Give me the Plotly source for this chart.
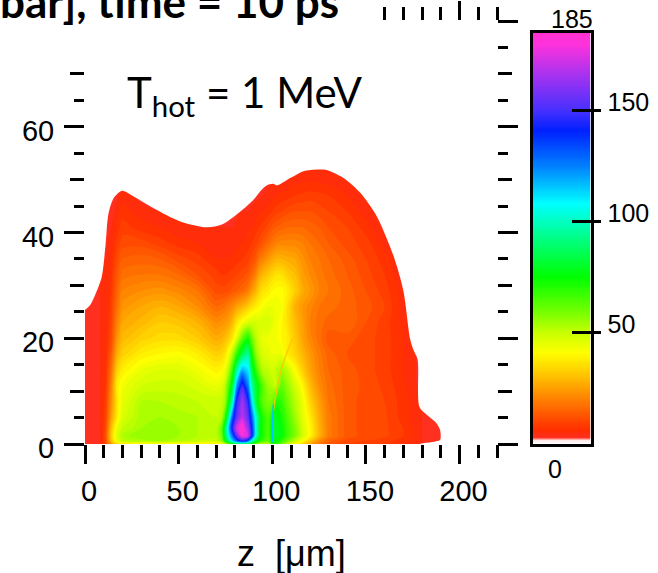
import numpy as np
import plotly.graph_objects as go

W, H = 658, 573
FONT = "Liberation Sans"

z_um = [0,8,11,14,17,20,30,40,50,60,70,73,75,77,79,81,84,87,89,91,93,95,98,100,102,105,108,112,116,120,125,130,140,150,160,170,180,190]
r_um = [0,0.6,1.5,3,5,8,11,14,17,20,23,26,29,32,35,38,41,44,47,50,53]

p00 = [4,4,10,25,35,36,38,38,38,38,38, 42,50,60,70,80,85,80,70,62,55,50,50, 72,70,60,50,42,34,26,18,13,10,9,8,6,4,4]
p01 = [4,4,11,30,44,50,53,54,52,50,49, 55,75,95,115,130,145,130,105,85,72,66,62, 75,75,68,60,50,42,32,22,15,11,10,9,7,4,4]
p02 = [4,4,12,32,46,53,56,56,54,52,51, 58,85,110,130,155,178,172,140,105,80,70,64, 78,80,75,66,58,48,40,28,19,13,11,10.5,8,4,4]
p03 = [4,4,11,30,44,50,54,55,54,52,51, 60,88,118,148,172,183,165,140,108,80,70,64, 80,80,75,66,58,48,40,28,19,13,11,10.5,8,4,4]
p04 = [4,4,10,25,38,47,53,54,53,52,50, 52,70,100,135,155,170,155,130,105,82,70,64, 75,78,72,64,55,46,38,27,19,13,11,10.5,7,4,4]
p05 = [4,4,9,22,36,45,52,52,51,50,50, 50,55,78,102,145,165,145,112,85,70,62,58, 60,72,68,60,52,44,34,25,18,13,11,10,7,4,4]
p06 = [4,4,8,20,38,43,48,49,49,47,44, 46,52,66,84,120,148,125,98,82,72,62,54, 52,50,62,56,48,40,30,22,17,13,11.5,9.5,6.5,3,3]
p07 = [4,4,7,17,33,38,44,46,46,43,39, 40,44,54,70,95,118,110,85,70,58,52,50, 48,50,55,50,41,33,26,20,16,13,11,9,6,3,3]
p08 = [4,4,6,14,27,33,38,40,41,38,33, 34,37,44,54,68,85,95,72,58,50,47,45, 44,44,44,38,34,29,24,19,15,12,11,9,6,3,3]
p09 = [4,4,5.5,11,23,29,33,35,35,32,27, 28,30,33,38,46,62,72,60,52,47,44,43, 42,42,40,38,32,26,21,17,13,13,11,9,6,3,3]
p10 = [4,4,5,10,20,26,29,32,31,28,22, 23,24,26,30,36,42,46,48,48,47,48,48, 45,43,40,36,30,25,20,17,15,16,12,9,5.5,3,3]
p11 = [4,4,4.5,9,17,23,26,28,26,22,16, 17,18,20,22,25,28,32,35,38,40,42,44, 44,44,42,36,28,24,21,18,17,15,13,10,5,3,3]
p12 = [3.5,4,4.5,8,15,20,22,23,21,18,11, 11,11,12,13,14,16,19,24,28,33,36,38, 40,41,41,38,33,27,24,20,18,15,12,9,5,3,3]
p13 = [3,4,4.2,7,13,17,18,18,16,12,9, 8,8,8.5,9,10,11,13,16,20,26,29,32, 34,36,36,33,30,25,22,19,17,14,11,8,4,3,3]
p14 = [3,3.5,4,6,11,14,15,14,11,9,6, 6,6,6,6.5,7,8,9,11,13,18,20,24, 26,28,28,27,26,23,20,18,16,13,10,7,4,3,3]
p15 = [3,3,3.5,5,8.5,11,11,9,7,6,4.5, 4.5,4.5,4.5,5,5.5,6,7,8,9,11,13,16, 18,20,21,21,21,20,18,16,14,11,9,5,3,3,3]
p16 = [3,3,3,4,7,9,7,6,4.5,4,4, 4,4,4,4,4.5,5,5.5,6,7,8,9,11, 13,14,15,16,16,16,15,14,12,10,7,3.5,3,3,3]
p17 = [3,3,3,3,5,7,5,4,4,3.5,3.5, 3.5,3.5,3.5,3.5,3.5,4,4,4.5,5,5.5,6,7, 8,9,10,11,12,12,12,11,10,8,5,3,3,3,3]
p18 = [3,3,3,3,3.5,5,3,3,3,3,3, 3,3,3,3,3,3,3,3,3.5,3.5,4,4.5, 5,6,6.5,7,8,8.5,9,8.5,8,6,4,3,3,3,3]
p19 = [3,3,3,3,3,3,3,3,3,3,3, 3,3,3,3,3,3,3,3,3,3,3,3.5, 4,4,4,4.5,5,5.5,5.5,5.5,5,4,3,3,3,3,3]
p20 = [3,3,3,3,3,3,3,3,3,3,3, 3,3,3,3,3,3,3,3,3,3,3,3, 3,3,3,3,3,3,3.5,3.5,3,3,3,3,3,3,3]
pressure = [p00,p01,p02,p03,p04,p05,p06,p07,p08,p09,p10,p11,p12,p13,p14,p15,p16,p17,p18,p19,p20]

edge_z = [-10,0,2.8,6,9,10.9,12.6,15.3,19.8,24.2,36.7,50.9,65.1,73.1,81,90,93.6,97,100.4,102.5,109.6,116.7,124,129,138,147,155.9,164.8,170,173.7,175.4,177.6,178.6,182.6,187,189.7,189.7,179]
edge_r = [23,25.4,26.3,28.7,31.7,37.4,43.7,46.5,47.9,47.2,44.6,42.1,41,41.5,43.4,46.2,47.8,48.9,49.2,48.9,50.3,51.6,51.9,51.8,50.3,47.5,43,35.5,29,19.7,17.8,16,7,5.5,4.2,2.6,0.8,0]
frame_z = [240,240,-10,-10]
frame_r = [-2,95,95,23]

shear_z = [100.7,103.4,107,111.4]
shear_r = [6.4,12.1,16.5,20.3]
sliver_z = [100,100.1,100.3,100.6]
sliver_r = [0.3,3,5.5,7.5]

cbar_ticks = [50,100,150]
cbar_levels = np.arange(0,185.5,0.5).tolist()

x_major = [0,50,100,150,200]
x_minor = [10,20,30,40,60,70,80,90,110,120,130,140,160,170,180,190,210,220]
top_major = [200]
top_minor = [160,170,180,190,210,220]
left_major = [0,20,40,60]
left_mid = [10,30,50,70]
left_minor = [5,15,25,35,45,55,65]
right_major = [0,20,40,60,80]
right_mid = [10,30,50,70]
right_minor = [5,15,25,35,45,55,65,75]

stops = [(0,"#ffffff"),(1.5,"#ffe8e8"),(3,"#ff3020"),(6,"#ff2c00"),(20,"#ff8000"),(30,"#ffbe00"),(41,"#ffff00"),
         (50,"#c8ff00"),(60,"#70ff00"),(75,"#00ff00"),(92,"#00ff80"),(108,"#00ffff"),(125,"#0080ff"),(141,"#0020ff"),
         (150,"#4630ff"),(165,"#a032f0"),(180,"#ff32dc"),(185,"#ff32d0")]
cscale = [[v/185,c] for v,c in stops]

def px(x): return x/W
def py(y): return 1-y/H

fig = go.Figure()
fig.add_trace(go.Contour(x=z_um,y=r_um,z=pressure,colorscale=cscale,zmin=0,zmax=185,showscale=False,
    autocontour=False,contours=dict(start=0,end=185,size=2,coloring="fill",showlines=False),
    line=dict(width=0,smoothing=1),hoverinfo="skip"))
fig.add_trace(go.Scatter(x=shear_z,y=shear_r,mode="lines",line=dict(color="rgba(255,200,0,0.9)",width=1.5,shape="spline"),hoverinfo="skip",showlegend=False))
fig.add_trace(go.Scatter(x=sliver_z,y=sliver_r,mode="lines",line=dict(color="#00c8ff",width=1.5,shape="spline"),hoverinfo="skip",showlegend=False))
fig.add_trace(go.Scatter(x=edge_z+frame_z,y=edge_r+frame_r,mode="lines",fill="toself",fillcolor="white",line=dict(width=0,color="white",shape="spline",smoothing=0.8),hoverinfo="skip",showlegend=False))
fig.add_trace(go.Heatmap(x=[0],y=cbar_levels,z=[[v] for v in cbar_levels],colorscale=cscale,zmin=0,zmax=185,showscale=False,xaxis="x2",yaxis="y2",hoverinfo="skip"))
for xa,ya in [("x3","y"),("x","y3"),("x","y4"),("x","y5"),("x2","y6")]:
    fig.add_trace(go.Scatter(x=[None],y=[None],xaxis=xa,yaxis=ya,mode="lines",hoverinfo="skip",showlegend=False))

tw = 3
def mnr(vals,l):
    return dict(tickmode="array",tickvals=vals,ticks="outside",ticklen=l,tickwidth=tw,tickcolor="black",showgrid=False)
base = dict(showgrid=False,zeroline=False,showline=False,tickcolor="black",tickwidth=tw,ticks="outside",tickmode="array")
xdom = [px(85),px(497)]
ydom = [py(444),py(21)]

layout = dict(width=W,height=H,margin=dict(l=0,r=0,t=0,b=0,autoexpand=False),paper_bgcolor="white",plot_bgcolor="white",showlegend=False,
    xaxis=dict(base,domain=xdom,range=[0,220],anchor="y",tickvals=x_major,ticklen=19,minor=mnr(x_minor,13),
               tickfont=dict(family=FONT,size=29,color="black"),ticklabelshift=4,ticklabelstandoff=2),
    yaxis=dict(base,domain=ydom,range=[0,80],anchor="x",tickvals=left_major,ticklen=20,minor=mnr(left_mid,14),
               tickfont=dict(family=FONT,size=29,color="black"),ticklabelstandoff=4,ticklabelshift=4),
    xaxis3=dict(base,overlaying="x",side="top",anchor="y",range=[0,220],tickvals=top_major,ticklen=19,minor=mnr(top_minor,13),showticklabels=False),
    yaxis3=dict(base,overlaying="y",side="left",anchor="x",range=[0,80],tickvals=left_minor,ticklen=10,showticklabels=False),
    yaxis4=dict(base,overlaying="y",side="right",anchor="x",range=[0,80],tickvals=right_major,ticklen=20,minor=mnr(right_mid,14),showticklabels=False),
    yaxis5=dict(base,overlaying="y",side="right",anchor="x",range=[0,80],tickvals=right_minor,ticklen=10,showticklabels=False),
    xaxis2=dict(domain=[px(532.5),px(590.5)],range=[-0.5,0.5],anchor="y2",showgrid=False,zeroline=False,ticks="",showticklabels=False,
                showline=True,mirror=True,linecolor="black",linewidth=3),
    yaxis2=dict(base,domain=[py(444),py(33)],range=[0,185],anchor="x2",side="right",tickvals=cbar_ticks,ticklen=7,showline=True,linecolor="black",linewidth=3,mirror=True,
                tickfont=dict(family=FONT,size=25,color="black"),ticklabelshift=-9,ticklabelstandoff=2),
    yaxis6=dict(base,overlaying="y2",anchor="x2",side="right",range=[0,185],tickvals=cbar_ticks,ticks="inside",ticklen=19,showticklabels=False),
)
fig.update_layout(**layout)

def ann(text,x,y,size,family=FONT,xanchor="center",yanchor="middle"):
    fig.add_annotation(text=text,xref="paper",yref="paper",x=px(x),y=py(y),showarrow=False,xanchor=xanchor,yanchor=yanchor,
                       font=dict(family=family,size=size,color="black"),borderpad=0,borderwidth=0)

ann("185",572,19,25)
ann("0",555,469,25)
ann("z\u00a0\u00a0[\u03bcm]",291,553,36)
ann("T<sub>hot</sub> = 1 MeV",127,95,42,family="Lato",xanchor="left")
ann("<b>bar], time = 10 ps</b>",0,1,44,family="Lato",xanchor="left")

fig.write_html("out.html", post_script="document.body.style.margin='0';", config={"displayModeBar":False})
